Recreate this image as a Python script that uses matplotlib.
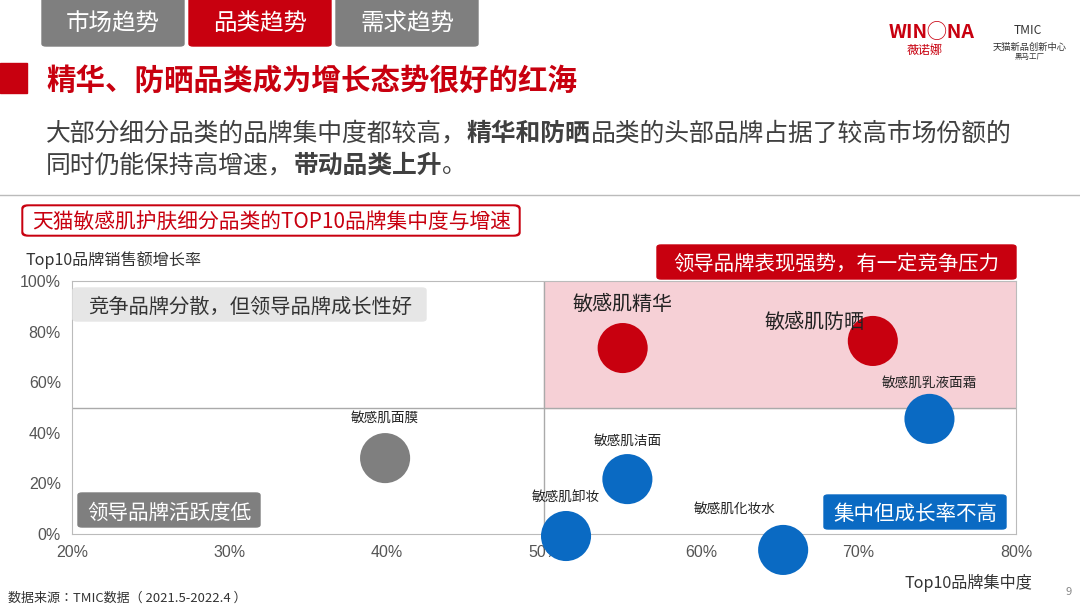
import matplotlib
matplotlib.use("Agg")
import matplotlib.pyplot as plt
from matplotlib.patches import FancyBboxPatch, Rectangle

plt.rcParams['font.family'] = ['Noto Sans CJK JP']

names = ["敏感肌精华", "敏感肌防晒", "敏感肌乳液面霜", "敏感肌面膜", "敏感肌洁面", "敏感肌卸妆", "敏感肌化妆水"]
conc = [55.0, 70.9, 74.5, 39.9, 55.3, 51.4, 65.2]
growth = [73.5, 76.3, 45.5, 30.0, 21.7, -0.8, -6.3]
colors = ["#c8000f", "#c8000f", "#0a6ac3", "#7f7f7f", "#0a6ac3", "#0a6ac3", "#0a6ac3"]
xticks = [20, 30, 40, 50, 60, 70, 80]
yticks = [0, 20, 40, 60, 80, 100]

W, H = 1080, 607
fig = plt.figure(figsize=(W/100, H/100), dpi=100)

def fx(px): return px / W
def fy(py): return 1 - py / H

def box(x0, y0, x1, y1, color, r=4, z=1):
    fig.patches.append(FancyBboxPatch((fx(x0), fy(y1)), fx(x1 - x0), (y1 - y0) / H,
                                      boxstyle=f"round,pad=0,rounding_size={r/W}",
                                      transform=fig.transFigure, color=color, zorder=z))

renderer = fig.canvas.get_renderer()
DY = 2.5

def fit(x, y, t, width, ha="left", **kw):
    tx = fig.text(fx(x), fy(y + DY), t, va="center", ha=ha, fontsize=10, **kw)
    w = tx.get_window_extent(renderer).width
    tx.set_fontsize(10 * width / w)
    return tx

# tabs
box(42, -6, 184, 46, "#7f7f7f")
box(189, -6, 331, 46, "#c8000f")
box(336, -6, 478, 46, "#7f7f7f")
for x, t in [(113, "市场趋势"), (260, "品类趋势"), (407, "需求趋势")]:
    fit(x, 22, t, 94, ha="center", color="white")
fit(932, 30, "WIN◯NA", 86, ha="center", color="#c8000f", fontweight="bold")
fit(925, 48, "薇诺娜", 36, ha="center", color="#c8000f")
fit(1028, 28, "TMIC", 28, ha="center", color="#333")
fit(1030, 45, "天猫新品创新中心", 74, ha="center", color="#333")
fit(1030, 54, "黑马工厂", 30, ha="center", color="#333")

# header
fig.patches.append(Rectangle((0, fy(93)), fx(27), 30/H, transform=fig.transFigure, color="#c8000f"))
fit(46, 78, "精华、防晒品类成为增长态势很好的红海", 530, color="#c8000f", fontweight="bold")

probe = fig.text(0, 0, "大部分细分品类的品牌集中度都较高，精华和防晒品类的头部品牌占据了较高市场份额的", fontsize=10)
body_fs = 10 * (1013 - 46) / probe.get_window_extent(renderer).width
probe.remove()

def chain(x0, y, parts):
    x = x0
    for t, bold in parts:
        tx = fig.text(fx(x), fy(y + DY), t, color="#404040", fontsize=body_fs, va="center",
                      fontweight="bold" if bold else "normal")
        x += tx.get_window_extent(renderer).width
chain(46, 131, [("大部分细分品类的品牌集中度都较高，", False), ("精华和防晒", True),
                ("品类的头部品牌占据了较高市场份额的", False)])
chain(46, 163, [("同时仍能保持高增速，", False), ("带动品类上升", True), ("。", False)])
fig.lines.append(plt.Line2D([0, 1], [fy(195), fy(195)], transform=fig.transFigure, color="#bbbbbb", lw=1))

box(22, 205, 520, 236, "#c8000f", r=6)
box(24, 207, 518, 234, "white", r=5, z=2)
fit(32, 220, "天猫敏感肌护肤细分品类的TOP10品牌集中度与增速", 478, color="#c8000f", zorder=3)

ax = fig.add_axes([fx(72), fy(534), fx(1016 - 72), (534 - 281) / H])
ax.set_xlim(20, 80)
ax.set_ylim(0, 100)
ax.add_patch(Rectangle((50, 50), 30, 50, color="#f6d0d6", zorder=0))
ax.axvline(50, color="#aaaaaa", lw=1)
ax.axhline(50, color="#aaaaaa", lw=1)
for s in ax.spines.values():
    s.set_color("#bbbbbb")
ax.set_xticks(xticks)
ax.set_xticklabels([f"{v}%" for v in xticks], fontsize=11.5, color="#555", family="Liberation Sans")
ax.set_yticks(yticks)
ax.set_yticklabels([f"{v}%" for v in yticks], fontsize=11.5, color="#555", family="Liberation Sans")
ax.tick_params(length=0, pad=8)
ax.scatter(conc, growth, s=1300, c=colors, clip_on=False, zorder=3, linewidths=0)

lab = {"敏感肌精华": (55.0, 90.7, 100), "敏感肌防晒": (67.2, 83.6, 100), "敏感肌乳液面霜": (74.5, 60.0, 95),
       "敏感肌面膜": (39.9, 46.0, 68), "敏感肌洁面": (55.3, 37.0, 68), "敏感肌卸妆": (51.4, 14.4, 68),
       "敏感肌化妆水": (62.1, 10.0, 82)}
for n in names:
    x, y, wpx = lab[n]
    t = ax.text(x, y, n, fontsize=10, ha="center", va="center", color="#222", zorder=4)
    t.set_fontsize(10 * wpx / t.get_window_extent(renderer).width)

fit(25, 258, "Top10品牌销售额增长率", 176, color="#333")
fit(1032, 580, "Top10品牌集中度", 128, ha="right", color="#333")

box(73, 288, 426, 321, "#e6e6e6")
fit(88, 305, "竞争品牌分散，但领导品牌成长性好", 324, color="#333")
box(657, 245, 1016, 279, "#c8000f")
fit(836, 262, "领导品牌表现强势，有一定竞争压力", 326, ha="center", color="white")
box(78, 493, 260, 527, "#7f7f7f")
fit(169, 510, "领导品牌活跃度低", 164, ha="center", color="white")
box(824, 495, 1006, 529, "#0a6ac3")
fit(915, 512, "集中但成长率不高", 164, ha="center", color="white")

fit(8, 596, "数据来源：TMIC数据（ 2021.5-2022.4 ）", 238, color="#333")
fig.text(fx(1072), fy(592), "9", fontsize=8, color="#888", va="center", ha="right")

fig.savefig("out.png", dpi=100)
